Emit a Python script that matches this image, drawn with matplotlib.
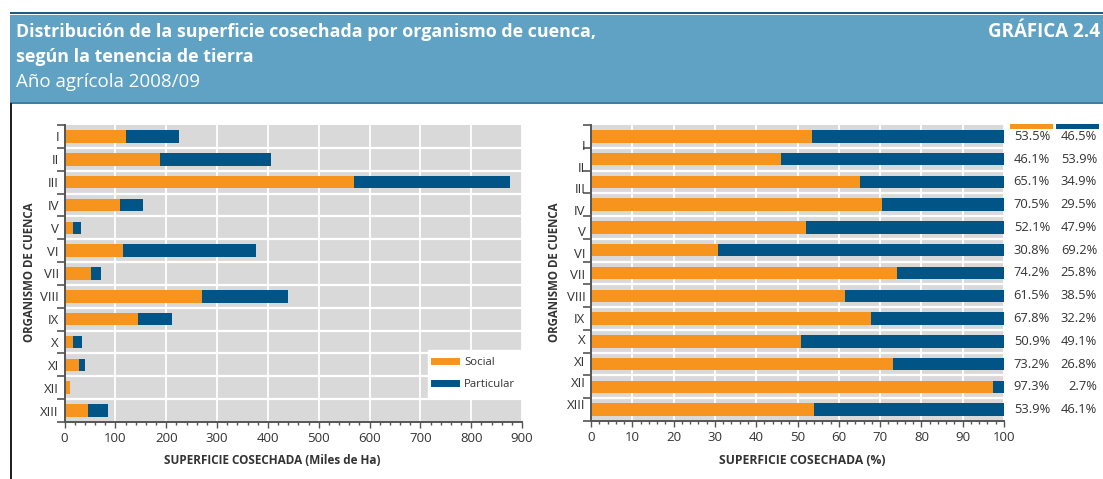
import matplotlib
matplotlib.use("Agg")
import matplotlib.pyplot as plt
from matplotlib.patches import Rectangle
from matplotlib.lines import Line2D
import numpy as np

plt.rcParams['font.family'] = ['Open Sans', 'DejaVu Sans']

# ---- data ----
regions = ["I", "II", "III", "IV", "V", "VI", "VII", "VIII", "IX", "X", "XI", "XII", "XIII"]
social_ha = [121, 187.6, 570, 109, 16.7, 116, 52.7, 270.6, 143.7, 17.3, 29.3, 11.2, 45.8]
particular_ha = [105, 219.4, 306, 46, 15.3, 261, 18.3, 169.4, 68.3, 16.7, 10.7, 0.3, 39.2]
social_pct = [53.5, 46.1, 65.1, 70.5, 52.1, 30.8, 74.2, 61.5, 67.8, 50.9, 73.2, 97.3, 53.9]
particular_pct = [46.5, 53.9, 34.9, 29.5, 47.9, 69.2, 25.8, 38.5, 32.2, 49.1, 26.8, 2.7, 46.1]
series_names = ["Social", "Particular"]

title_l1 = "Distribución de la superficie cosechada por organismo de cuenca,"
title_l2 = "según la tenencia de tierra"
subtitle = "Año agrícola 2008/09"
badge = "GRÁFICA 2.4"
ylabel = "ORGANISMO DE CUENCA"
xlabel_left = "SUPERFICIE COSECHADA (Miles de Ha)"
xlabel_right = "SUPERFICIE COSECHADA (%)"

ORANGE = "#f7941d"
BLUE = "#005486"
GRAY = "#d9d9d9"
SPINE = "#555555"
TXT = "#333333"

W, H = 1103, 479
fig = plt.figure(figsize=(W / 100, H / 100), dpi=100)


def fx(px):
    return px / W


def fy(py):
    return 1 - py / H


# ---- header band ----
fig.patches.append(Rectangle((fx(10), fy(103)), fx(W - 10), (100 - 12) / H,
                             transform=fig.transFigure, facecolor="#5fa2c4",
                             edgecolor="none", zorder=0))
fig.patches.append(Rectangle((fx(10), fy(14)), fx(W - 10), 2 / H,
                             transform=fig.transFigure, facecolor="#1d5c82",
                             edgecolor="none", zorder=1))
fig.patches.append(Rectangle((fx(10), fy(104)), fx(W - 10), 2 / H,
                             transform=fig.transFigure, facecolor="#3f7fa3",
                             edgecolor="none", zorder=1))
fig.patches.append(Rectangle((fx(10), fy(479)), 2.2 / W, (479 - 103) / H,
                             transform=fig.transFigure, facecolor="#222222",
                             edgecolor="none", zorder=1))

fig.text(fx(16), fy(37), title_l1, color="white", fontsize=12.9, fontweight="bold", va="baseline")
fig.text(fx(16), fy(62), title_l2, color="white", fontsize=12.9, fontweight="bold", va="baseline")
fig.text(fx(16), fy(87), subtitle, color="white", fontsize=13.5, va="baseline")
fig.text(fx(988), fy(37), badge, color="white", fontsize=13.5, fontweight="bold", va="baseline")

ypos = np.arange(len(regions))
bar_h = 0.55


def style_axes(ax, xmax, major, minor):
    ax.set_facecolor(GRAY)
    ax.set_xlim(0, xmax)
    ax.set_ylim(len(regions) - 0.5, -0.5)
    for s in ["top", "right"]:
        ax.spines[s].set_visible(False)
    for s in ["left", "bottom"]:
        ax.spines[s].set_color(SPINE)
        ax.spines[s].set_linewidth(1.4)
    ax.set_xticks(np.arange(0, xmax + 0.1, major))
    ax.set_xticks(np.arange(0, xmax + 0.1, minor), minor=True)
    ax.tick_params(axis="x", which="major", direction="out", length=4, width=1, color=SPINE,
                   labelsize=9.5, labelcolor=TXT, pad=3)
    ax.tick_params(axis="x", which="minor", direction="out", length=2.5, width=1, color=SPINE)
    for v in np.arange(major, xmax + 0.1, major):
        ax.axvline(v, color="white", lw=1.3, zorder=0.5)
    for b in np.arange(0.5, len(regions) - 0.5, 1):
        ax.axhline(b, color="white", lw=1.6, zorder=0.5)
    ax.set_axisbelow(True)


# ---- left chart ----
axL = fig.add_axes([fx(64.5), fy(422), fx(522 - 64.5), (422 - 125) / H])
style_axes(axL, 900, 100, 20)
axL.barh(ypos, social_ha, height=bar_h, color=ORANGE, label=series_names[0], zorder=2)
axL.barh(ypos, particular_ha, left=social_ha, height=bar_h, color=BLUE, label=series_names[1], zorder=2)
axL.set_yticks(np.arange(-0.5, len(regions), 1))
axL.set_yticklabels([])
axL.set_yticks(ypos, minor=True)
axL.set_yticklabels(regions, minor=True)
axL.tick_params(axis="y", which="major", direction="out", length=6, width=1.2, color=SPINE)
axL.tick_params(axis="y", which="minor", length=0, labelsize=9.5, labelcolor=TXT, pad=4)

handles = [Line2D([0], [0], color=ORANGE, lw=5), Line2D([0], [0], color=BLUE, lw=5)]
leg = axL.legend(handles, series_names, loc="lower right", bbox_to_anchor=(1.0, 0.085),
                 borderaxespad=0, frameon=True, fancybox=False, framealpha=1, edgecolor="white",
                 fontsize=8.2, handlelength=1.9, labelspacing=0.95, borderpad=0.6,
                 handletextpad=0.7)
for t in leg.get_texts():
    t.set_color(TXT)

# ---- right chart ----
axR = fig.add_axes([fx(591), fy(421), fx(1004 - 591), (421 - 125) / H])
style_axes(axR, 100, 10, 2)
axR.barh(ypos, social_pct, height=bar_h, color=ORANGE, zorder=2)
axR.barh(ypos, particular_pct, left=social_pct, height=bar_h, color=BLUE, zorder=2)
axR.set_yticks(np.arange(-0.5, len(regions), 1))
axR.set_yticklabels([])
# category labels in the reference drift slightly relative to the rows
label_pos = np.linspace(0.38, 11.75, len(regions))
axR.set_yticks(label_pos, minor=True)
axR.set_yticklabels(regions, minor=True)
axR.tick_params(axis="y", which="major", direction="out", length=6, width=1.2, color=SPINE)
axR.tick_params(axis="y", which="minor", length=0, labelsize=9.5, labelcolor=TXT, pad=4)

# percentage columns
for i, (s, p) in enumerate(zip(social_pct, particular_pct)):
    yy = axR.transData.transform((0, i))[1] / fig.dpi / fig.get_figheight()
    fig.text(fx(1050), yy, f"{s:.1f}%", ha="right", va="center", fontsize=9.3, color=TXT)
    fig.text(fx(1097), yy, f"{p:.1f}%", ha="right", va="center", fontsize=9.3, color=TXT)

fig.patches.append(Rectangle((fx(1010), fy(129)), fx(43), 5 / H, transform=fig.transFigure,
                             facecolor=ORANGE, edgecolor="none"))
fig.patches.append(Rectangle((fx(1056), fy(129)), fx(43), 5 / H, transform=fig.transFigure,
                             facecolor=BLUE, edgecolor="none"))

# axis titles
fig.text(fx(272), fy(461), xlabel_left, ha="center", va="center", fontsize=8.5, fontweight="bold", color=TXT)
fig.text(fx(802), fy(461), xlabel_right, ha="center", va="center", fontsize=8.7, fontweight="bold", color=TXT)
fig.text(fx(30), fy(272), ylabel, ha="center", va="center", rotation=90, fontsize=8.3, fontweight="bold", color=TXT)
fig.text(fx(555), fy(272), ylabel, ha="center", va="center", rotation=90, fontsize=8.3, fontweight="bold", color=TXT)

fig.savefig("out.png", dpi=100, facecolor="white")
